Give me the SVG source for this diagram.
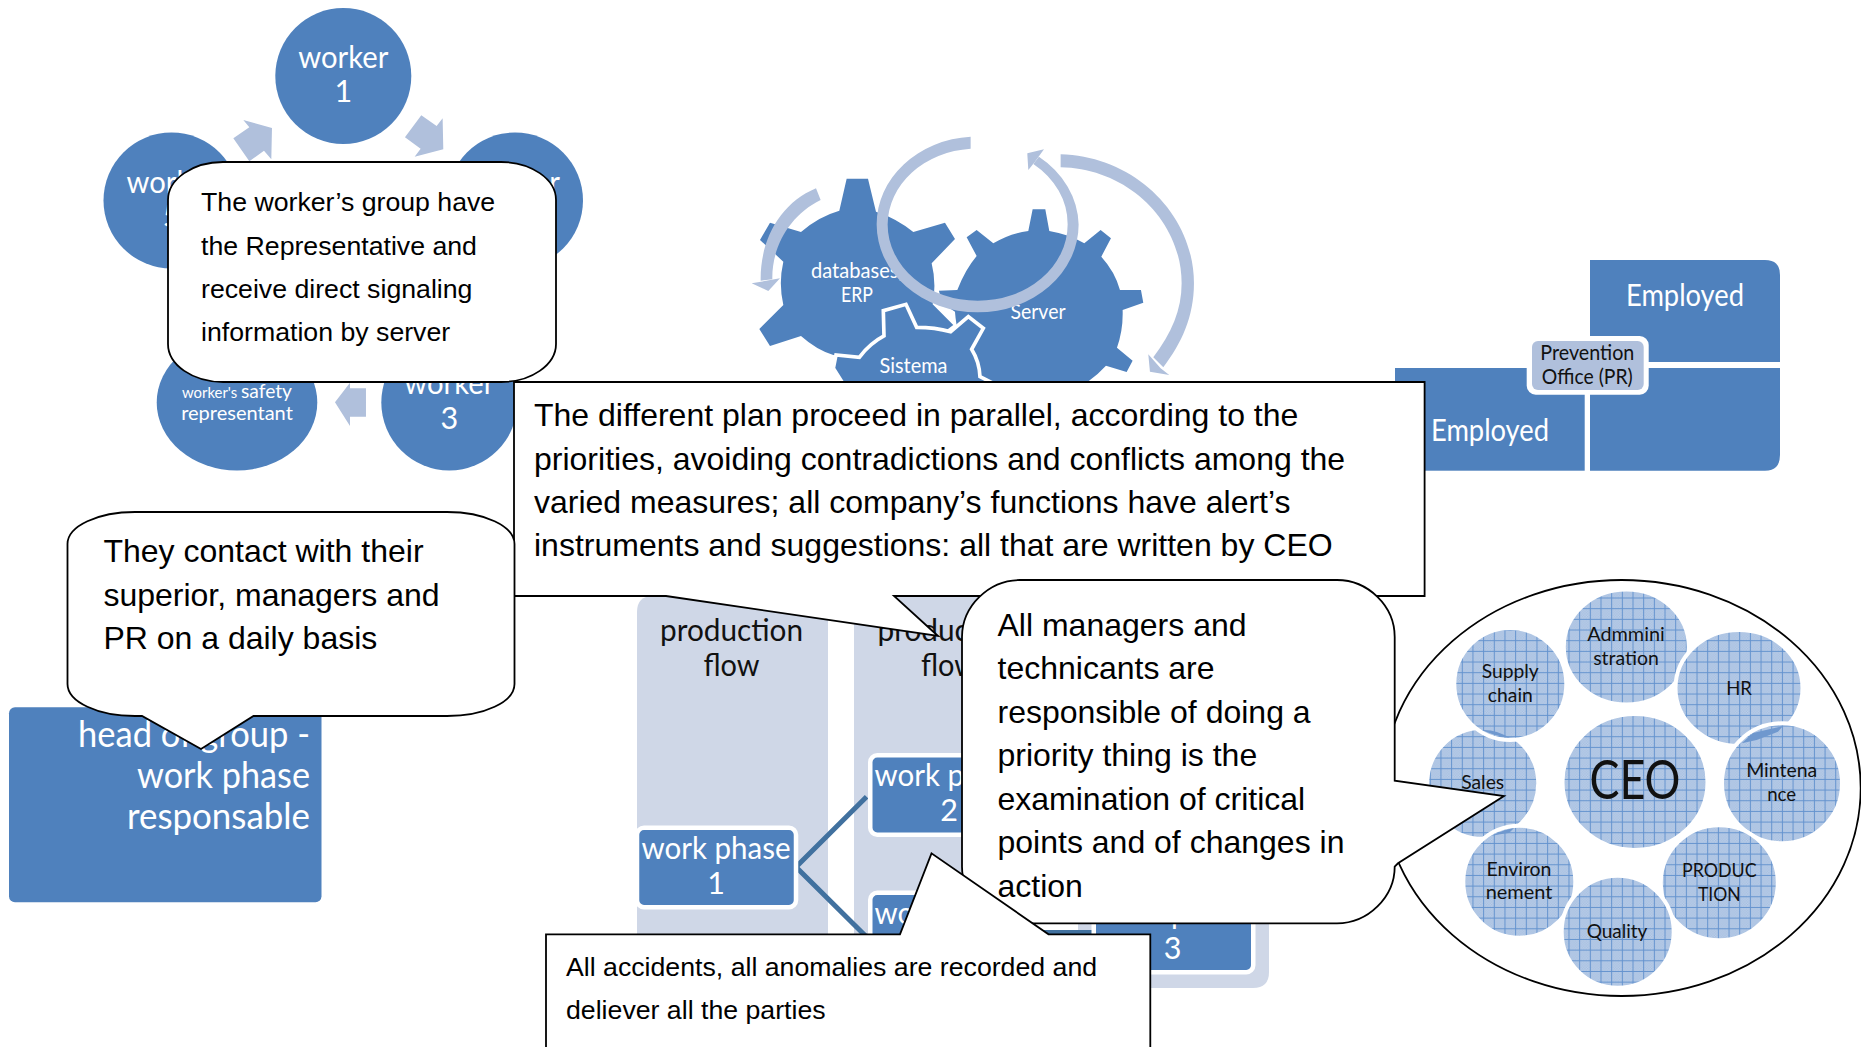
<svg xmlns="http://www.w3.org/2000/svg" width="1861" height="1047" viewBox="0 0 1861 1047">
<style>
.b{fill:#4F81BD}
.w{fill:#fff}
.la{fill:#B0C0DC}
.col{fill:#CFD7E7}
text{font-family:"Lato","Open Sans","Liberation Sans",sans-serif;text-anchor:middle}
.tw{fill:#fff}
.tk{fill:#111}
.s31{font-size:30.5px}
.s21{font-size:21px}
.s19{font-size:19.5px}
.s36{font-size:36px}
.call{fill:#fff;stroke:#000;stroke-width:1.8}
.ct{font-family:"Liberation Sans",Arial,sans-serif;text-anchor:start;fill:#000}
.c27{font-size:26.7px}
.c31{font-size:32px}
.dep{fill:url(#grid);stroke:#fff;stroke-width:4}
.sl{fill:#6F98CE}
.box{fill:#4F81BD;stroke:#fff;stroke-width:4.5}
.conn{fill:none;stroke:#41719F;stroke-width:5}
</style>
<defs>
<pattern id="fine" width="2.6" height="2.6" patternUnits="userSpaceOnUse">
<rect width="2.6" height="2.6" fill="#BCCEE8"/><rect width="1.3" height="1.3" fill="#A4BEE0"/><rect x="1.3" y="1.3" width="1.3" height="1.3" fill="#A4BEE0"/>
</pattern>
<pattern id="grid" width="10.67" height="10.67" patternUnits="userSpaceOnUse">
<rect width="10.67" height="10.67" fill="url(#fine)"/>
<path d="M0 .5H10.67M.5 0V10.67" stroke="#6493CE" stroke-width="1" fill="none"/>
</pattern>
</defs>
<rect width="1861" height="1047" fill="#fff"/>

<g id="worker-cycle-arrows">
<g transform="translate(90 0) scale(.3333)" class="la">
<polygon points="430,415 478,382 460,360 546,384 544,478 522,452 478,484"/>
<polygon points="994,346 1040,378 1058,355 1060,448 974,470 992,446 945,412"/>
<polygon points="828,1165 780,1165 780,1148 735,1207 780,1278 780,1250 828,1250"/>
</g>
</g>
<g id="worker1"><circle class="b" cx="343.3" cy="76" r="68"/><text class="tw s31" x="343.3" y="67.7" textLength="90" lengthAdjust="spacingAndGlyphs">worker</text><text class="tw s31" x="343.3" y="102">1</text></g>
<g id="worker2"><circle class="b" cx="515" cy="200.5" r="68"/><text class="tw s31" x="515" y="192.7" textLength="90" lengthAdjust="spacingAndGlyphs">worker</text><text class="tw s31" x="515" y="227">2</text></g>
<g id="worker3"><circle class="b" cx="449.3" cy="402.5" r="68"/><text class="tw s31" x="449.3" y="394" textLength="90" lengthAdjust="spacingAndGlyphs">worker</text><text class="tw s31" x="449.3" y="429">3</text></g>
<g id="worker5"><circle class="b" cx="171.5" cy="200.5" r="68"/><text class="tw s31" x="171.5" y="192.7" textLength="90" lengthAdjust="spacingAndGlyphs">worker</text><text class="tw s31" x="171.5" y="227">5</text></g>
<g id="safety-representant"><ellipse class="b" cx="237" cy="402.5" rx="80.3" ry="68"/><text class="tw" x="237" y="397.5" font-size="20" textLength="110" lengthAdjust="spacingAndGlyphs"><tspan font-size="15.5">worker's </tspan>safety</text><text class="tw" x="237" y="420.2" font-size="20" textLength="111.7" lengthAdjust="spacingAndGlyphs">representant</text></g>

<g id="gears" transform="translate(740 120) scale(.3333)">
<path class="b" d="M320 176L384 176L408 275Q470 295 520 336L615 308L645 357L575 430Q590 490 578 553L640 615L500 720L280 705Q230 690 183 648L90 678L58 627L130 555Q115 490 130 425L60 360L90 308L183 336Q235 290 298 272Z"/>
<path class="b" d="M878 268L916 268L928 333Q985 342 1033 370L1082 330L1113 355L1084 410Q1125 455 1140 510L1203 510L1210 548L1148 570Q1150 630 1131 683L1178 722L1160 756L1098 737Q1050 790 980 820L700 820Q650 650 645 575L605 548L597 512L652 510Q675 450 710 408L680 352L710 330L760 370Q810 340 865 333Z"/>
<path class="b" stroke="#fff" stroke-width="11" d="M280 745L288 705L358 712Q390 670 432 648L430 572L498 553L530 622Q585 622 632 635L685 590L730 625L695 688Q718 725 720 770L760 790L760 840L340 840Z"/>
</g>
<g id="gear-labels">
<text class="tw s21" x="857" y="277.5" textLength="92" lengthAdjust="spacingAndGlyphs">databases,</text>
<text class="tw s21" x="857" y="302.2" textLength="32" lengthAdjust="spacingAndGlyphs">ERP</text>
<text class="tw s21" x="1038" y="319" textLength="55" lengthAdjust="spacingAndGlyphs">Server</text>
<text class="tw s21" x="913.5" y="373" textLength="68" lengthAdjust="spacingAndGlyphs">Sistema</text>
</g>
<g id="gear-arrows" transform="translate(740 120) scale(.3333)" class="la">
<path d="M228 205C120 250 60 360 62 482L97 478C95 380 150 285 242 240Z"/>
<polygon points="35,490 120,475 85,513"/>
<path d="M692 50A303 263.5 0 0 0 410 313.5A303 263.5 0 0 0 1016 313.5A303 263.5 0 0 0 897 110L880 132A270 229 0 0 1 983 313.5A270 229 0 0 1 443 313.5A270 229 0 0 1 692 86Z"/>
<polygon points="912,88 862,100 865,150 885,125"/>
<path d="M962 103C1180 108 1362 280 1362 490C1362 590 1325 670 1270 742L1240 712C1295 640 1325 570 1325 490C1325 300 1160 145 962 142Z"/>
<polygon points="1225,703 1230,755 1288,765 1262,745"/>
</g>

<g id="employed-matrix">
<path class="b" d="M1590 260H1765Q1780 260 1780 275V362H1590Z"/>
<path class="b" d="M1590 368H1780V455Q1780 470.7 1765 470.7H1590Z"/>
<rect class="b" x="1395" y="368" width="189.7" height="102.7"/>
<rect x="1526.7" y="336" width="122" height="58.7" rx="9" fill="#fff"/>
<rect x="1532" y="341" width="111.7" height="49" rx="6" class="la"/>
<text class="tw" x="1685" y="306" font-size="31" textLength="118" lengthAdjust="spacingAndGlyphs">Employed</text>
<text class="tw" x="1490" y="441" font-size="31" textLength="118" lengthAdjust="spacingAndGlyphs">Employed</text>
<text class="tk s21" x="1587.3" y="359.5" textLength="94" lengthAdjust="spacingAndGlyphs">Prevention</text>
<text class="tk s21" x="1587.3" y="383.5" textLength="91" lengthAdjust="spacingAndGlyphs">Office (PR)</text>
</g>

<g id="head-of-group">
<rect class="b" x="9" y="707.3" width="312.5" height="195" rx="6"/>
<text class="tw s36" x="310" y="747" textLength="232" lengthAdjust="spacingAndGlyphs" style="text-anchor:end">head of group -</text>
<text class="tw s36" x="310" y="787.5" textLength="173" lengthAdjust="spacingAndGlyphs" style="text-anchor:end">work phase</text>
<text class="tw s36" x="310" y="828.5" textLength="183" lengthAdjust="spacingAndGlyphs" style="text-anchor:end">responsable</text>
</g>

<g id="production-flow">
<path class="col" d="M637 950V612Q637 596 653 596H812Q828 596 828 612V950Z"/>
<path class="col" d="M854 950V612Q854 596 870 596H1020Q1036 596 1036 612V950Z"/>
<path class="col" d="M1078 596H1269V972Q1269 988 1253 988H1078Z"/>
<g id="flow-connectors">
<path class="conn" d="M866.6 796.7L796 867L866.6 937"/>
<path class="conn" d="M1030 932.5H1092"/>
</g>
<text class="tk s31" x="731.5" y="641" textLength="143" lengthAdjust="spacingAndGlyphs">production</text>
<text class="tk s31" x="731.5" y="676" textLength="56" lengthAdjust="spacingAndGlyphs">flow</text>
<text class="tk s31" x="949" y="641" textLength="143" lengthAdjust="spacingAndGlyphs">production</text>
<text class="tk s31" x="949" y="676" textLength="56" lengthAdjust="spacingAndGlyphs">flow</text>
<g id="work-phase-1"><rect class="box" x="637" y="827.75" width="159" height="79.5" rx="7"/><text class="tw s31" x="716" y="859" textLength="149" lengthAdjust="spacingAndGlyphs">work phase</text><text class="tw s31" x="716" y="894">1</text></g>
<g id="work-phase-2"><rect class="box" x="870.25" y="755.25" width="159.5" height="79.5" rx="7"/><text class="tw s31" x="949" y="786" textLength="149" lengthAdjust="spacingAndGlyphs">work phase</text><text class="tw s31" x="949" y="821">2</text></g>
<g id="work-phase-2b"><rect class="box" x="870.25" y="892.75" width="159.5" height="79.5" rx="7"/><text class="tw s31" x="949" y="924" textLength="149" lengthAdjust="spacingAndGlyphs">work phase</text><text class="tw s31" x="949" y="959">3</text></g>
<g id="work-phase-3"><rect class="box" x="1093.75" y="892.75" width="159.5" height="79.5" rx="7"/><text class="tw s31" x="1172.5" y="924" textLength="149" lengthAdjust="spacingAndGlyphs">work phase</text><text class="tw s31" x="1172.5" y="959">3</text></g>
</g>

<g id="callout-workers">
<path class="call" d="M223 162H501C531 162 556 179 556 200V344C556 365 531 382 501 382H223C193 382 168 365 168 344V200C168 179 193 162 223 162Z"/>
<text class="ct c27" x="201" y="210.7">The worker’s group have</text>
<text class="ct c27" x="201" y="255">the Representative and</text>
<text class="ct c27" x="201" y="298">receive direct signaling</text>
<text class="ct c27" x="201" y="341">information by server</text>
</g>

<g id="callout-plan">
<path class="call" d="M514 382H1424.6V596H894L938 636L666 596H514Z"/>
<text class="ct c31" x="534" y="426">The different plan proceed in parallel, according to the</text>
<text class="ct c31" x="534" y="469.5">priorities, avoiding contradictions and conflicts among the</text>
<text class="ct c31" x="534" y="513">varied measures; all company’s functions have alert’s</text>
<text class="ct c31" x="534" y="556">instruments and suggestions: all that are written by CEO</text>
</g>

<g id="callout-contact">
<path class="call" d="M135 512H447C484 512 514.5 526 514.5 544V684C514.5 702 484 716 447 716H253.5L201 749L142 716H135C98 716 67.5 702 67.5 684V544C67.5 526 98 512 135 512Z"/>
<text class="ct c31" x="103.4" y="562">They contact with their</text>
<text class="ct c31" x="103.4" y="606">superior, managers and</text>
<text class="ct c31" x="103.4" y="649">PR on a daily basis</text>
</g>

<g id="departments">
<ellipse class="call" cx="1621.7" cy="788" rx="239" ry="208"/>
<ellipse class="dep" cx="1482.7" cy="783.3" rx="55.5" ry="55.5"/>
<ellipse class="dep" cx="1626.3" cy="647" rx="62.5" ry="57.5"/>
<ellipse class="dep" cx="1739" cy="688" rx="63.5" ry="58"/>
<ellipse class="dep" cx="1782" cy="783.3" rx="60" ry="60"/>
<path class="sl" d="M1741.7 743.3L1753 733L1783 726L1778 731.7L1756.7 740Z"/>
<ellipse class="dep" cx="1719.3" cy="882.7" rx="58.5" ry="57.5"/>
<ellipse class="dep" cx="1519.3" cy="881.7" rx="56" ry="56"/>
<path class="sl" d="M1491 836Q1503 830 1514 828L1509 833Q1500 834 1491 836Z"/>
<ellipse class="dep" cx="1617.7" cy="931.7" rx="56" ry="56"/>
<ellipse class="dep" cx="1510.3" cy="684" rx="56" ry="56"/>
<path class="sl" d="M1482 730Q1495 729 1510 738Q1495 736 1482 730Z"/>
<ellipse class="dep" cx="1635" cy="782" rx="72.5" ry="68"/>
<text class="tk s19" x="1510.3" y="678" textLength="57" lengthAdjust="spacingAndGlyphs">Supply</text>
<text class="tk s19" x="1510.3" y="701.7" textLength="45" lengthAdjust="spacingAndGlyphs">chain</text>
<text class="tk s19" x="1626" y="641" textLength="77.7" lengthAdjust="spacingAndGlyphs">Admmini</text>
<text class="tk s19" x="1626" y="665" textLength="65.7" lengthAdjust="spacingAndGlyphs">stration</text>
<text class="tk s19" x="1739" y="695" textLength="25.7" lengthAdjust="spacingAndGlyphs">HR</text>
<text class="tk" x="1635" y="799" font-size="54" textLength="91" lengthAdjust="spacingAndGlyphs">CEO</text>
<text class="tk s19" x="1781.7" y="777.3" textLength="71" lengthAdjust="spacingAndGlyphs">Mintena</text>
<text class="tk s19" x="1781.7" y="801" textLength="29" lengthAdjust="spacingAndGlyphs">nce</text>
<text class="tk s19" x="1719.3" y="876.7" textLength="74.7" lengthAdjust="spacingAndGlyphs">PRODUC</text>
<text class="tk s19" x="1719.3" y="900.7" textLength="42.7" lengthAdjust="spacingAndGlyphs">TION</text>
<text class="tk s19" x="1617" y="938.3" textLength="60.7" lengthAdjust="spacingAndGlyphs">Quality</text>
<text class="tk s19" x="1519" y="876" textLength="65" lengthAdjust="spacingAndGlyphs">Environ</text>
<text class="tk s19" x="1519" y="899.3" textLength="66.7" lengthAdjust="spacingAndGlyphs">nement</text>
<text class="tk s19" x="1482.7" y="789" textLength="43" lengthAdjust="spacingAndGlyphs">Sales</text>
</g>

<g id="callout-managers">
<path class="call" d="M1020 580H1337C1368 580 1394.7 606 1394.7 637V780.7L1504 796L1398 863.3L1394.7 866.7C1394.7 897 1368 923.3 1337 923.3H1020C989 923.3 962 897 962 866.7V637C962 606 989 580 1020 580Z"/>
<text class="ct c31" x="997.5" y="636">All managers and</text>
<text class="ct c31" x="997.5" y="679">technicants are</text>
<text class="ct c31" x="997.5" y="723">responsible of doing a</text>
<text class="ct c31" x="997.5" y="766">priority thing is the</text>
<text class="ct c31" x="997.5" y="809.5">examination of critical</text>
<text class="ct c31" x="997.5" y="853">points and of changes in</text>
<text class="ct c31" x="997.5" y="897">action</text>
</g>

<g id="callout-accidents">
<path class="call" d="M546 1050V934.3H900L931.5 853.3L1048.5 934.3H1150.3V1050"/>
<text class="ct c27" x="566" y="976">All accidents, all anomalies are recorded and</text>
<text class="ct c27" x="566" y="1019">deliever all the parties</text>
</g>
</svg>
